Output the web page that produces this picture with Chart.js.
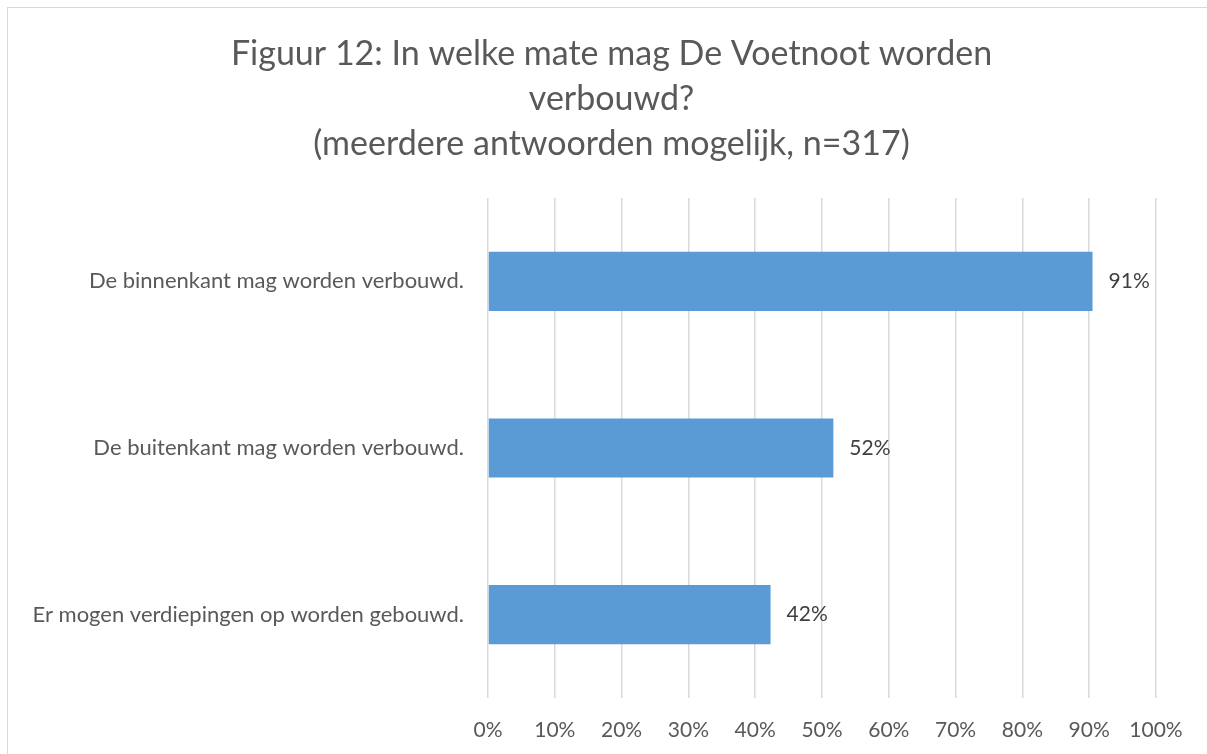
<!DOCTYPE html>
<html>
<head>
<meta charset="utf-8">
<script src="https://cdn.jsdelivr.net/npm/chart.js@4"></script>
<style>
  body { margin: 0; background: #fff; overflow: hidden; }
  #box { position: absolute; left: 7px; top: 7px; width: 1207px; height: 760px; border: 1px solid #d9d9d9; background: #fff; }
  canvas { display: block; }
</style>
</head>
<body>
<div id="box"><canvas id="chart" width="1207" height="754"></canvas></div>
<script>
const titleLines = ['Figuur 12: In welke mate mag De Voetnoot worden', 'verbouwd?', '(meerdere antwoorden mogelijk, n=317)'];
const categories = ['De binnenkant mag worden verbouwd.', 'De buitenkant mag worden verbouwd.', 'Er mogen verdiepingen op worden gebouwd.'];
const shares = [90.5, 51.7, 42.3];
const xTicks = [0, 10, 20, 30, 40, 50, 60, 70, 80, 90, 100];

const FONT = 'Lato, "Open Sans", sans-serif';

// value labels right of each bar
const valueLabels = {
    id: 'valueLabels',
    afterDatasetsDraw(chart) {
        const ctx = chart.ctx;
        const meta = chart.getDatasetMeta(0);
        ctx.save();
        ctx.font = '21px ' + FONT;
        ctx.fillStyle = '#404040';
        ctx.textAlign = 'left';
        ctx.textBaseline = 'middle';
        meta.data.forEach(function (bar, i) {
            ctx.fillText(Math.round(shares[i]) + '%', bar.x + 16, bar.y);
        });
        ctx.restore();
    }
};

const ctx = document.getElementById('chart');
const chart = new Chart(ctx, {
    type: 'bar',
    data: {
        labels: categories,
        datasets: [{
            data: shares,
            backgroundColor: '#5b9bd5',
            borderWidth: 0,
            categoryPercentage: 1,
            barPercentage: 0.355
        }]
    },
    options: {
        indexAxis: 'y',
        responsive: false,
        animation: false,
        layout: { padding: { left: 0, right: 0, top: 0, bottom: 4 } },
        plugins: {
            legend: { display: false },
            tooltip: { enabled: false },
            title: {
                display: true,
                text: titleLines,
                color: '#595959',
                font: { family: FONT, size: 34, weight: 'normal', lineHeight: '45px' },
                padding: { top: 24, bottom: 31 }
            }
        },
        scales: {
            x: {
                min: 0,
                max: 100,
                afterBuildTicks(scale) {
                    scale.ticks = xTicks.map(v => ({ value: v }));
                },
                afterFit(scale) { scale.height = 60; },
                grid: { color: '#d9d9d9', lineWidth: 1.5, drawTicks: false },
                border: { display: false },
                ticks: {
                    color: '#595959',
                    font: { family: FONT, size: 21 },
                    padding: 20,
                    callback: v => v + '%'
                }
            },
            y: {
                afterFit(scale) { scale.width = 480; },
                grid: { display: false, drawTicks: false },
                border: { display: false },
                ticks: {
                    color: '#595959',
                    font: { family: FONT, size: 22 },
                    padding: 24
                }
            },
            // empty right-hand margin so the title stays centred on the whole box
            yRight: {
                axis: 'y',
                type: 'linear',
                position: 'right',
                afterFit(scale) { scale.width = 59; },
                grid: { display: false, drawTicks: false },
                border: { display: false },
                ticks: { display: false }
            }
        }
    },
    plugins: [valueLabels]
});
</script>
</body>
</html>
